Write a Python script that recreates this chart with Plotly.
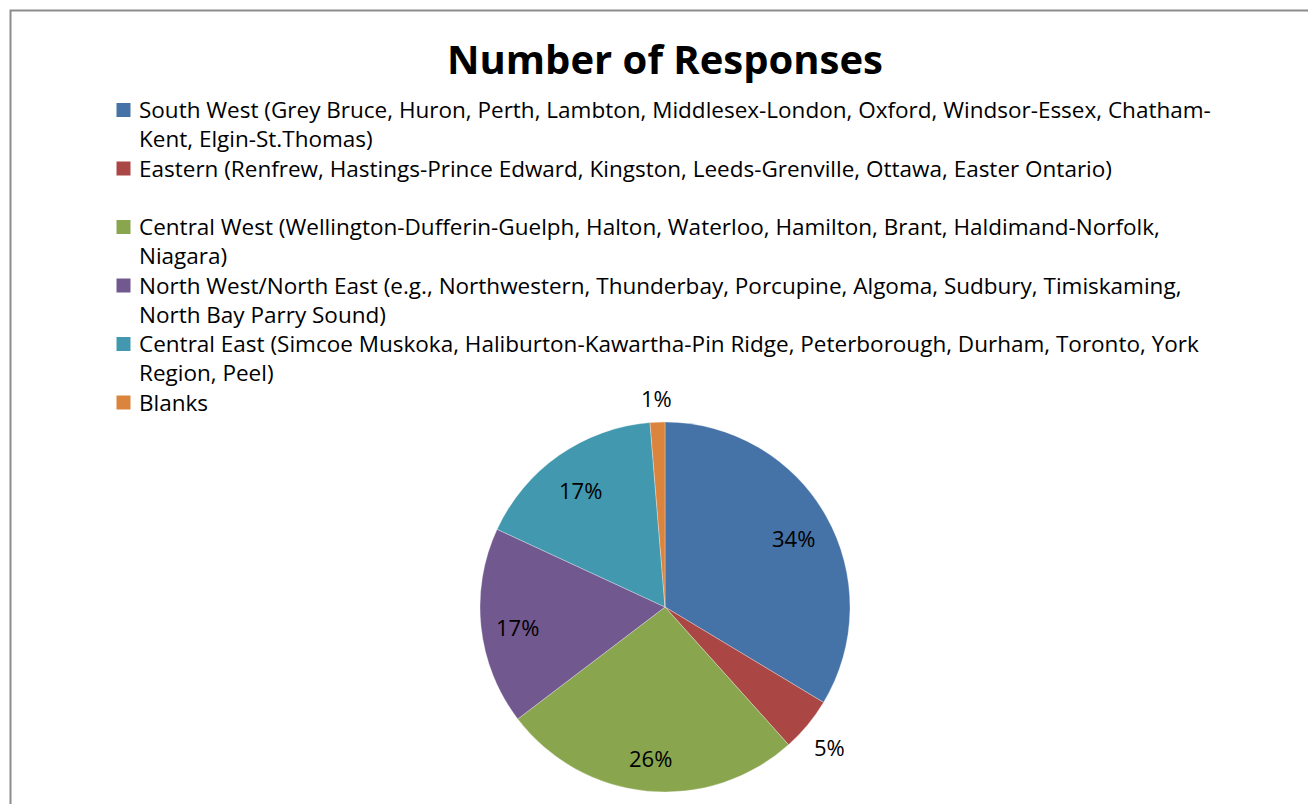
import math
import plotly.graph_objects as go

# Survey responses by region
regions = [
    "South West",
    "Eastern",
    "Central West",
    "North West/North East",
    "Central East",
    "Blanks",
]
# legend text, one list of lines per region (Eastern keeps a blank second line)
region_lines = [
    ["South West (Grey Bruce, Huron, Perth, Lambton, Middlesex-London, Oxford, Windsor-Essex, Chatham-",
     "Kent, Elgin-St.Thomas)"],
    ["Eastern (Renfrew, Hastings-Prince Edward, Kingston, Leeds-Grenville, Ottawa, Easter Ontario)",
     "\u00a0"],
    ["Central West (Wellington-Dufferin-Guelph, Halton, Waterloo, Hamilton, Brant, Haldimand-Norfolk,",
     "Niagara)"],
    ["North West/North East (e.g., Northwestern, Thunderbay, Porcupine, Algoma, Sudbury, Timiskaming,",
     "North Bay Parry Sound)"],
    ["Central East (Simcoe Muskoka, Haliburton-Kawartha-Pin Ridge, Peterborough, Durham, Toronto, York",
     "Region, Peel)"],
    ["Blanks"],
]
responses = [78, 11, 61, 40, 39, 3]
colors = ["#4572A7", "#AA4643", "#89A54E", "#71588F", "#4198AF", "#DB843D"]
label_outside = [False, True, False, False, False, True]

W, H = 1308, 804
FONT = "Open Sans"

# pie centre and radius in pixels
cx, cy, r = 665, 607, 185

# legend layout (pixels)
legend_font = 22.5
line_pitch = legend_font * 1.3
legend_y0 = 110          # centre of the first legend line
key_x0, key_size, text_x = 116.5, 14, 138

fig = go.Figure(
    go.Pie(
        labels=regions,
        values=responses,
        sort=False,
        direction="clockwise",
        rotation=0,
        marker=dict(colors=colors, line=dict(color="rgba(255,255,255,0.6)", width=0.5)),
        textinfo="none",
        domain=dict(x=[(cx - r) / W, (cx + r) / W], y=[(H - cy - r) / H, (H - cy + r) / H]),
        showlegend=False,
        hoverinfo="label+value+percent",
    )
)

annotations = []
shapes = []

# percentage labels at each slice's mid-angle (clockwise from 12 o'clock)
total = sum(responses)
cum = 0
for v, outside in zip(responses, label_outside):
    mid = (cum + v / 2) / total * 2 * math.pi
    cum += v
    d = r * (1.15 if outside else 0.8)
    px = cx + d * math.sin(mid)
    py = cy - d * math.cos(mid) + 4
    annotations.append(
        dict(
            x=px / W, y=1 - py / H, xref="paper", yref="paper",
            text=f"{round(100 * v / total)}%",
            showarrow=False, xanchor="center", yanchor="middle",
            font=dict(family=FONT, size=22, color="#000000"),
        )
    )

# legend: coloured key boxes beside one block of wrapped description lines
all_lines = []
for lines, col in zip(region_lines, colors):
    y_first = legend_y0 + len(all_lines) * line_pitch
    shapes.append(
        dict(
            type="rect", xref="paper", yref="paper",
            x0=key_x0 / W, x1=(key_x0 + key_size) / W,
            y0=1 - (y_first + key_size / 2) / H, y1=1 - (y_first - key_size / 2) / H,
            fillcolor=col, line=dict(width=0),
        )
    )
    all_lines.extend(lines)

block_mid = legend_y0 + (len(all_lines) - 1) / 2 * line_pitch
annotations.append(
    dict(
        x=text_x / W, y=1 - block_mid / H,
        xref="paper", yref="paper", text="<br>".join(all_lines), showarrow=False,
        xanchor="left", yanchor="middle", align="left", borderpad=0,
        font=dict(family=FONT, size=legend_font, color="#000000"),
    )
)

# chart frame
shapes.append(
    dict(
        type="rect", xref="paper", yref="paper",
        x0=10.5 / W, x1=1.05, y0=-0.05, y1=1 - 10.5 / H,
        line=dict(color="#8c8c8c", width=2),
        fillcolor="rgba(0,0,0,0)", layer="below",
    )
)

fig.update_layout(
    width=W,
    height=H,
    margin=dict(l=0, r=0, t=0, b=0),
    paper_bgcolor="white",
    plot_bgcolor="white",
    font=dict(family=FONT, color="#000000"),
    title=dict(
        text="<b>Number of Responses</b>",
        font=dict(family=FONT, size=40, color="#000000"),
        x=cx / W, xanchor="center", xref="paper",
        y=1 - 60 / H, yanchor="middle", yref="container",
    ),
    showlegend=False,
    annotations=annotations,
    shapes=shapes,
)

fig.write_html("out.html")
